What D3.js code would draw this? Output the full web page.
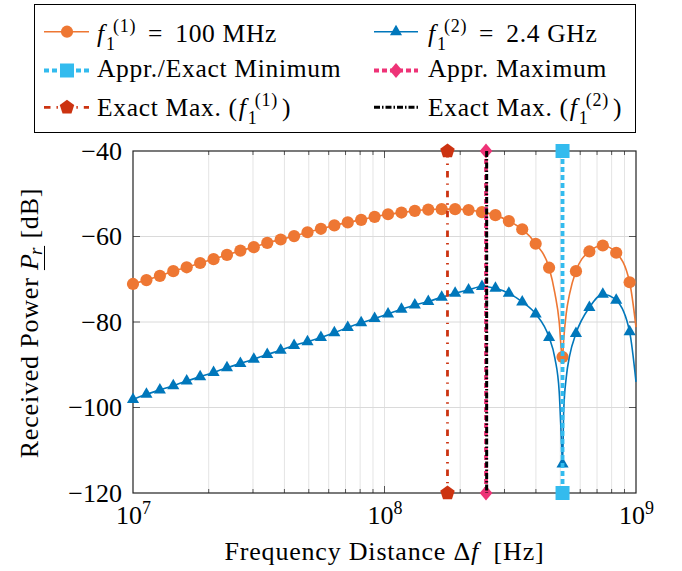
<!DOCTYPE html>
<html><head><meta charset="utf-8">
<script src="https://cdn.jsdelivr.net/npm/d3@7"></script>
<style>
body{margin:0;background:#fff}
svg{display:block}
text{fill:#000;white-space:pre}
</style>
</head><body>
<svg id="c" width="682" height="571"></svg>
<script>
// ---------- data ----------
const freq = [1.000e7,1.131e7,1.279e7,1.446e7,1.635e7,1.849e7,2.091e7,2.364e7,2.673e7,3.022e7,
  3.418e7,3.865e7,4.370e7,4.941e7,5.587e7,6.318e7,7.143e7,8.077e7,9.134e7,1.033e8,
  1.168e8,1.320e8,1.493e8,1.688e8,1.909e8,2.159e8,2.441e8,2.761e8,3.122e8,3.529e8,
  3.991e8,4.513e8,5.104e8,5.771e8,6.525e8,7.379e8,8.343e8,9.434e8];
const powerF1 = [-71.1,-70.2,-69.2,-68.1,-67.2,-66.2,-65.3,-64.3,-63.3,-62.5,
  -61.5,-60.7,-59.9,-59.0,-58.2,-57.4,-56.7,-56.1,-55.4,-54.8,
  -54.4,-54.0,-53.7,-53.6,-53.6,-53.8,-54.3,-55.0,-56.4,-58.3,
  -61.7,-67.3,-88.2,-68.1,-63.5,-62.1,-63.8,-70.7];
const powerF2 = [-98.1,-96.9,-95.9,-94.9,-93.8,-92.8,-91.8,-90.7,-89.7,-88.7,
  -87.6,-86.6,-85.5,-84.6,-83.6,-82.5,-81.3,-80.2,-79.2,-78.1,
  -77.0,-76.0,-75.2,-74.2,-73.3,-72.5,-71.7,-72.1,-73.3,-75.3,
  -78.1,-83.6,-113.2,-82.7,-76.6,-73.5,-74.9,-82.3];
// extra line-only samples (dip detail and end of range)
const lineFreq = [4.76e8,4.95e8,5.05e8,5.16e8,5.28e8,5.45e8,1.0e9];
const lineF1 = [-73.3,-80.0,-86.5,-84.0,-78.0,-73.3,-81.2];
const lineF2 = [-88.5,-96.3,-107.4,-100.6,-93.0,-87.8,-94.0];
// vertical markers
const minFreq = 5.104e8;
const apprMaxFreq = 2.533e8;
const exactMaxF1 = 1.780e8;
const exactMaxF2 = 2.548e8;
const yDomain = [-120,-40];
const xDomain = [1e7,1e9];
const yTicks = [-120,-100,-80,-60,-40];
const xTicks = [1e7,1e8,1e9];
const xTickExp = ["7","8","9"];

// ---------- font detection ----------
const FONT = (function(){
  const cands = ["Liberation Serif","Tinos","Times New Roman","Nimbus Roman","DejaVu Serif","Noto Serif"];
  const ctx = document.createElement("canvas").getContext("2d");
  const s = "Appr./Exact Minimum WMiq 0123";
  for(const f of cands){
    let ok = false;
    for(const base of ["monospace","sans-serif"]){
      ctx.font = `40px ${base}`; const w0 = ctx.measureText(s).width;
      ctx.font = `40px "${f}", ${base}`; const w1 = ctx.measureText(s).width;
      if(Math.abs(w0-w1)>0.5){ ok = true; }
    }
    if(ok) return `"${f}", serif`;
  }
  return "serif";
})();

// ---------- colours ----------
const C_OR = "#EE7733", C_BL = "#0077BB", C_CY = "#33BBEE", C_MA = "#EE3377", C_RD = "#CC3311";

const svg = d3.select("#c").style("font-family", FONT);
const L = 133, R = 636, T = 151, B = 493;
const x = d3.scaleLog().domain(xDomain).range([L,R]);
const y = d3.scaleLinear().domain(yDomain).range([B,T]);

// grid
svg.append("g").selectAll("line").data(x.ticks().filter(d=>d>xDomain[0]&&d<xDomain[1])).join("line")
  .attr("x1",d=>x(d)).attr("x2",d=>x(d)).attr("y1",T).attr("y2",B)
  .attr("stroke","#e4e4e4").attr("stroke-width",1);
svg.append("g").selectAll("line").data(yTicks.filter(d=>d>yDomain[0]&&d<yDomain[1])).join("line")
  .attr("x1",L).attr("x2",R).attr("y1",d=>y(d)).attr("y2",d=>y(d))
  .attr("stroke","#dadada").attr("stroke-width",1);

// tick marks
const tk = svg.append("g").attr("stroke","#555").attr("stroke-width",1);
yTicks.filter(d=>d>yDomain[0]&&d<yDomain[1]).forEach(d=>{
  tk.append("line").attr("x1",L).attr("x2",L+7).attr("y1",y(d)).attr("y2",y(d));
  tk.append("line").attr("x1",R-7).attr("x2",R).attr("y1",y(d)).attr("y2",y(d));
});
x.ticks().filter(d=>d>xDomain[0]&&d<xDomain[1]).forEach(d=>{
  const len = xTicks.includes(d) ? 7 : 4;
  tk.append("line").attr("x1",x(d)).attr("x2",x(d)).attr("y1",B).attr("y2",B-len);
  tk.append("line").attr("x1",x(d)).attr("x2",x(d)).attr("y1",T).attr("y2",T+len);
});

// frame
svg.append("rect").attr("x",L).attr("y",T).attr("width",R-L).attr("height",B-T)
  .attr("fill","none").attr("stroke","#222").attr("stroke-width",1.2);

// axes (labels only)
const yAx = svg.append("g").attr("transform",`translate(${L},0)`)
  .call(d3.axisLeft(y).tickValues(yTicks).tickSize(0).tickPadding(11)
    .tickFormat(d=>(d<0?"\u2212":"")+Math.abs(d)));
yAx.select(".domain").remove();
yAx.attr("font-family",null).attr("font-size",null);
yAx.selectAll("text").style("font-size","26px");

const xAx = svg.append("g").attr("transform",`translate(0,${B})`)
  .call(d3.axisBottom(x).tickValues(xTicks).tickSize(0).tickPadding(13).tickFormat(""));
xAx.select(".domain").remove();
xAx.attr("font-family",null).attr("font-size",null);
xAx.selectAll(".tick text").each(function(d,i){
  const t = d3.select(this).style("font-size","26px");
  t.text(null);
  t.append("tspan").text("10");
  t.append("tspan").attr("dy","-10").style("font-size","18px").text(xTickExp[i]);
});

// ---------- series ----------
function series(fm, pm, fl, pl){
  const pts = fm.map((f,i)=>[f,pm[i]]).concat(fl.map((f,i)=>[f,pl[i]]));
  pts.sort((a,b)=>a[0]-b[0]);
  return pts;
}
const line = d3.line().x(d=>x(d[0])).y(d=>y(d[1])).curve(d3.curveMonotoneX);
const trianglePath = r => `M0,${-r}L${r*Math.cos(Math.PI/6)},${r/2}L${-r*Math.cos(Math.PI/6)},${r/2}Z`;
const pentagonPath = r => "M"+d3.range(5).map(k=>{const a=-Math.PI/2+k*2*Math.PI/5;return [r*Math.cos(a),r*Math.sin(a)].join(",");}).join("L")+"Z";
const diamondPath = (w,h) => `M0,${-h}L${w},0L0,${h}L${-w},0Z`;
const squarePath = s => `M${-s},${-s}H${s}V${s}H${-s}Z`;

// orange
const gO = svg.append("g");
gO.append("path").attr("d",line(series(freq,powerF1,lineFreq,lineF1)))
  .attr("fill","none").attr("stroke",C_OR).attr("stroke-width",1.6);
gO.selectAll("circle").data(freq).join("circle")
  .attr("cx",d=>x(d)).attr("cy",(d,i)=>y(powerF1[i])).attr("r",6.1).attr("fill",C_OR);
// blue
const gB = svg.append("g");
gB.append("path").attr("d",line(series(freq,powerF2,lineFreq,lineF2)))
  .attr("fill","none").attr("stroke",C_BL).attr("stroke-width",1.6);
gB.selectAll("path.m").data(freq).join("path").attr("class","m")
  .attr("transform",(d,i)=>`translate(${x(d)},${y(powerF2[i])})`)
  .attr("d",trianglePath(7)).attr("fill",C_BL);

// vertical lines
function vline(f, color, width, dash, markerD){
  const g = svg.append("g");
  g.append("line").attr("x1",x(f)).attr("x2",x(f)).attr("y1",y(yDomain[1])).attr("y2",y(yDomain[0]))
    .attr("stroke",color).attr("stroke-width",width).attr("stroke-dasharray",dash);
  if(markerD){
    g.selectAll("path").data(yDomain).join("path")
      .attr("transform",d=>`translate(${x(f)},${y(d)})`).attr("d",markerD).attr("fill",color);
  }
}
vline(minFreq, C_CY, 3.8, "5,3", squarePath(7));
vline(apprMaxFreq, C_MA, 3.8, "5,3", diamondPath(6.3,7.5));
vline(exactMaxF1, C_RD, 2.8, "6.5,6,1.4,6", pentagonPath(7.6));
vline(exactMaxF2, "#000", 3.0, "6,2,1.5,2", null);

// ---------- rich text (one <text>, absolutely placed tspans) ----------
function rich(parent, x0, y0, segs, fs, ls){
  const t = parent.append("text").style("font-size",fs+"px").style("letter-spacing",ls);
  let cx = x0, ps = x0, ends = [];
  segs.forEach(s=>{
    const size = s.script ? Math.round(fs*0.72) : fs;
    const start = (s.off !== undefined) ? ps + s.off : cx + (s.gap||0);
    const sp = t.append("tspan").attr("x",start).attr("y",y0+(s.dy||0))
      .style("font-size",size+"px").style("font-style",s.it?"italic":"normal").text(s.t);
    const w = sp.node().getComputedTextLength();
    if(s.off !== undefined){ ends.push(start+w); cx = Math.max(...ends); }
    else { ps = start; ends = [start+w]; cx = start+w; }
  });
  return t;
}

// ---------- axis titles ----------
const ylG = svg.append("g").attr("transform","translate(38,323) rotate(-90)");
const ylSegs = [{t:"Received Power "},{t:"P",it:true},{t:"r",it:true,script:true,dy:4,off:15}, {t:" [dB]",gap:1}];
const ylT = rich(ylG, 0, 0, ylSegs, 26, "0.8px");
{
  const bb = ylT.node().getBBox();
  ylT.attr("transform",`translate(${-bb.width/2},0)`);
  const sp = ylT.selectAll("tspan").nodes();
  const p0 = +sp[1].getAttribute("x"), r1 = +sp[2].getAttribute("x") + sp[2].getComputedTextLength();
  ylG.append("line").attr("transform",`translate(${-bb.width/2},0)`)
    .attr("x1",p0).attr("x2",r1+1).attr("y1",6.5).attr("y2",6.5)
    .attr("stroke","#000").attr("stroke-width",1);
}
const xlG = svg.append("g");
const xlT = rich(xlG, 0, 560, [{t:"Frequency Distance \u0394"},{t:"f",it:true},{t:"  [Hz]"}], 26, "0.8px");
{
  const bb = xlT.node().getBBox();
  xlT.attr("transform",`translate(${(L+R)/2-bb.width/2},0)`);
}

// ---------- legend ----------
svg.append("rect").attr("x",34.5).attr("y",4.5).attr("width",601).attr("height",128)
  .attr("fill","#fff").attr("stroke","#000").attr("stroke-width",1);
const LG = svg.append("g");
const FS = 25.5, LS = "0.7px";
const fsym = (k,g) => [{t:"f",it:true,gap:g||0},{t:"1",script:true,dy:8,off:9},{t:`(${k})`,script:true,dy:-10,off:16}];
const eqText = (num, unit) => [{t:"=",gap:12},{t:num,gap:12},{t:unit,gap:7}];
const rowsY = [31.7,70.5,107.3], baseY = [42,76.5,116];
const cols = [{x1:44,x2:89,xm:67,xt:97},{x1:374,x2:418,xm:396,xt:428}];
function sample(c,r,color,width,dash,marker){
  const cc = cols[c], yy = rowsY[r];
  LG.append("line").attr("x1",cc.x1).attr("x2",cc.x2).attr("y1",yy).attr("y2",yy)
    .attr("stroke",color).attr("stroke-width",width).attr("stroke-dasharray",dash||null);
  if(marker) LG.append("path").attr("transform",`translate(${cc.xm},${yy})`).attr("d",marker).attr("fill",color);
}
sample(0,0,C_OR,1.6,null,d3.symbol(d3.symbolCircle,Math.PI*6.1*6.1)());
rich(LG, cols[0].xt, baseY[0], fsym(1).concat(eqText("100","MHz")), FS, LS);
sample(1,0,C_BL,1.6,null,trianglePath(7));
rich(LG, cols[1].xt, baseY[0], fsym(2).concat(eqText("2.4","GHz")), FS, LS);
sample(0,1,C_CY,3.8,"5,3",squarePath(7));
rich(LG, cols[0].xt, baseY[1], [{t:"Appr./Exact Minimum"}], FS, LS);
sample(1,1,C_MA,3.8,"5,3",diamondPath(6.3,7.5));
rich(LG, cols[1].xt, baseY[1], [{t:"Appr. Maximum"}], FS, LS);
sample(0,2,C_RD,2.8,"6.5,6,1.4,6",pentagonPath(7.6));
rich(LG, cols[0].xt, baseY[2], [{t:"Exact Max. ("}].concat(fsym(1,1)).concat([{t:")",gap:4}]), FS, LS);
sample(1,2,"#000",3.0,"6,2,1.5,2",null);
rich(LG, cols[1].xt, baseY[2], [{t:"Exact Max. ("}].concat(fsym(2,1)).concat([{t:")",gap:4}]), FS, LS);
</script>
</body></html>
